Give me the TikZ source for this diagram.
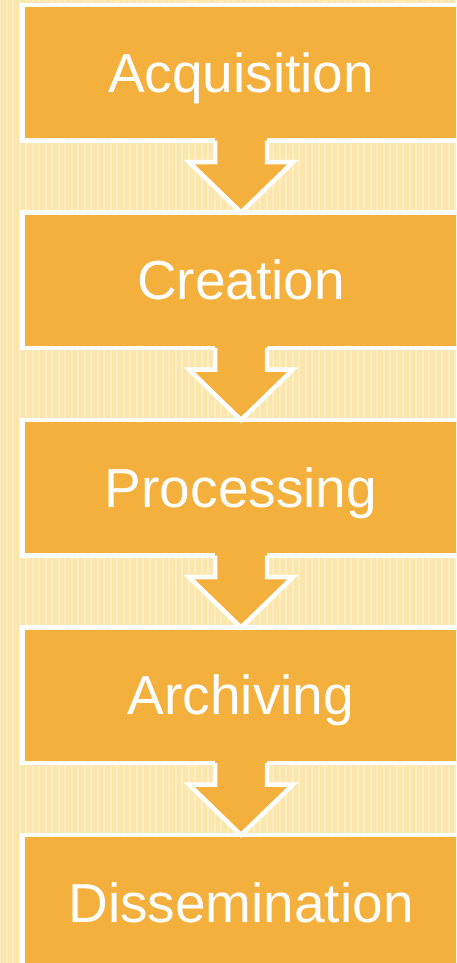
\documentclass[tikz,border=0pt]{standalone}
\usepackage{fontspec}
\setmainfont{Liberation Sans}
\definecolor{boxorange}{RGB}{244,176,60}
\definecolor{paper}{RGB}{251,230,172}

\begin{document}
\begin{tikzpicture}[x=1pt, y=-1pt,
        stage/.style={shape=rectangle, draw=white, fill=boxorange, line width=4.5pt, outer sep=0pt,
            minimum width=437pt, minimum height=135.5pt, text=white,
            font=\fontsize{55}{60}\selectfont, text height=39pt, text depth=0pt},
        flowfill/.style={fill=boxorange},
        flowedge/.style={draw=white, line width=4.5pt, line cap=square, line join=miter}]
        \useasboundingbox (0,0) rectangle (456,963);
        \clip (0,0) rectangle (456,963);
        \fill[paper] (0,0) rectangle (456,963);
        \foreach \x in {0,6.5,...,456} \draw[white, opacity=0.3, line width=2pt] (\x,0) -- (\x,963);

        \node[stage] (S1) at (241, 72.75) {Acquisition};
        \node[stage] (S2) at (241, 280.25) {Creation};
        \node[stage] (S3) at (241, 487.75) {Processing};
        \node[stage] (S4) at (241, 695.25) {Archiving};
        \node[stage] (S5) at (241, 902.75) {Dissemination};

        \fill[flowfill] ([xshift=-26pt,yshift=5pt]S1.south) -- ([xshift=-26pt,yshift=-21.5pt]S1.south) -- ([xshift=-52pt,yshift=-21.5pt]S1.south) -- (S2.north) -- ([xshift=52pt,yshift=-21.5pt]S1.south) -- ([xshift=26pt,yshift=-21.5pt]S1.south) -- ([xshift=26pt,yshift=5pt]S1.south) -- cycle;
        \draw[flowedge] ([xshift=-26pt]S1.south) -- ([xshift=-26pt,yshift=-21.5pt]S1.south) -- ([xshift=-52pt,yshift=-21.5pt]S1.south) -- (S2.north) -- ([xshift=52pt,yshift=-21.5pt]S1.south) -- ([xshift=26pt,yshift=-21.5pt]S1.south) -- ([xshift=26pt]S1.south);

        \fill[flowfill] ([xshift=-26pt,yshift=5pt]S2.south) -- ([xshift=-26pt,yshift=-21.5pt]S2.south) -- ([xshift=-52pt,yshift=-21.5pt]S2.south) -- (S3.north) -- ([xshift=52pt,yshift=-21.5pt]S2.south) -- ([xshift=26pt,yshift=-21.5pt]S2.south) -- ([xshift=26pt,yshift=5pt]S2.south) -- cycle;
        \draw[flowedge] ([xshift=-26pt]S2.south) -- ([xshift=-26pt,yshift=-21.5pt]S2.south) -- ([xshift=-52pt,yshift=-21.5pt]S2.south) -- (S3.north) -- ([xshift=52pt,yshift=-21.5pt]S2.south) -- ([xshift=26pt,yshift=-21.5pt]S2.south) -- ([xshift=26pt]S2.south);

        \fill[flowfill] ([xshift=-26pt,yshift=5pt]S3.south) -- ([xshift=-26pt,yshift=-21.5pt]S3.south) -- ([xshift=-52pt,yshift=-21.5pt]S3.south) -- (S4.north) -- ([xshift=52pt,yshift=-21.5pt]S3.south) -- ([xshift=26pt,yshift=-21.5pt]S3.south) -- ([xshift=26pt,yshift=5pt]S3.south) -- cycle;
        \draw[flowedge] ([xshift=-26pt]S3.south) -- ([xshift=-26pt,yshift=-21.5pt]S3.south) -- ([xshift=-52pt,yshift=-21.5pt]S3.south) -- (S4.north) -- ([xshift=52pt,yshift=-21.5pt]S3.south) -- ([xshift=26pt,yshift=-21.5pt]S3.south) -- ([xshift=26pt]S3.south);

        \fill[flowfill] ([xshift=-26pt,yshift=5pt]S4.south) -- ([xshift=-26pt,yshift=-21.5pt]S4.south) -- ([xshift=-52pt,yshift=-21.5pt]S4.south) -- (S5.north) -- ([xshift=52pt,yshift=-21.5pt]S4.south) -- ([xshift=26pt,yshift=-21.5pt]S4.south) -- ([xshift=26pt,yshift=5pt]S4.south) -- cycle;
        \draw[flowedge] ([xshift=-26pt]S4.south) -- ([xshift=-26pt,yshift=-21.5pt]S4.south) -- ([xshift=-52pt,yshift=-21.5pt]S4.south) -- (S5.north) -- ([xshift=52pt,yshift=-21.5pt]S4.south) -- ([xshift=26pt,yshift=-21.5pt]S4.south) -- ([xshift=26pt]S4.south);
    \end{tikzpicture}
\end{document}
